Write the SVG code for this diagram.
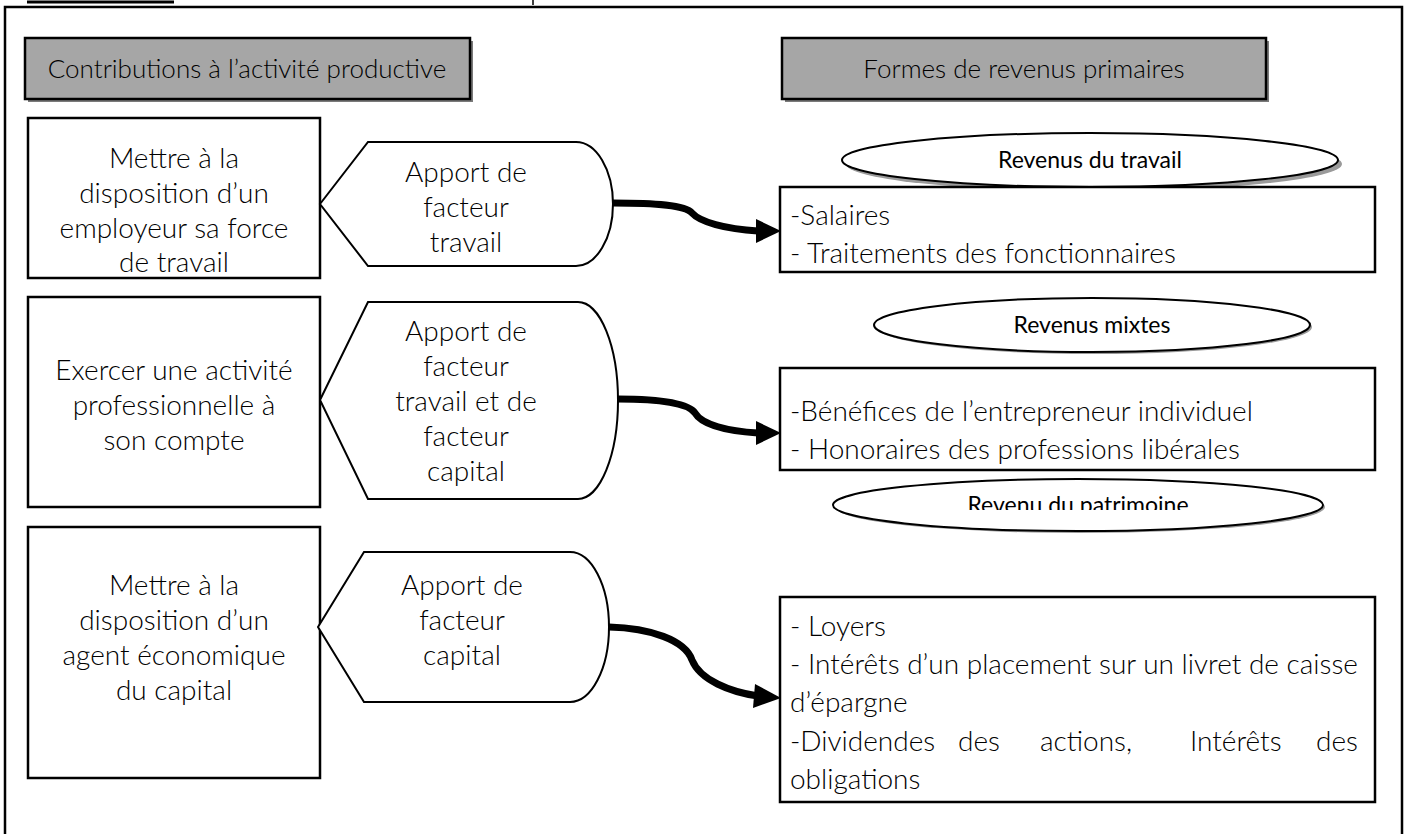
<svg xmlns="http://www.w3.org/2000/svg" width="1407" height="834" viewBox="0 0 1407 834">
<defs>
<style>
.frame{fill:none;stroke:#000;stroke-width:2.5}
.box{fill:#fff;stroke:#000;stroke-width:2.5}
.hdr{fill:#a6a6a6;stroke:#000;stroke-width:2.5}
.hsh{fill:#7a7a7a}
.esh{fill:#9a9a9a}
.disp{fill:#fff;stroke:#000;stroke-width:2}
.ell{fill:#fff;stroke:#000;stroke-width:2}
.t{font-family:Lato,"Open Sans","Liberation Sans",sans-serif;font-weight:300;font-size:28px;fill:#000}
.c{text-anchor:middle}
.h{font-size:26px}
.e{font-weight:400;font-size:23px}
.conn{fill:none;stroke:#000;stroke-width:7;stroke-linecap:butt}
.head{fill:#000}
</style>
<clipPath id="clipE3"><rect x="800" y="470" width="560" height="40"/></clipPath>
</defs>
<rect width="1407" height="834" fill="#fff"/>
<line x1="27" y1="2" x2="174" y2="2" stroke="#000" stroke-width="3"/>
<line x1="533" y1="0" x2="533" y2="5" stroke="#000" stroke-width="1.5"/>
<rect class="frame" x="5" y="7" width="1397" height="850"/>

<g id="header-left">
<rect class="hsh" x="28" y="41" width="445" height="61"/>
<rect class="hdr" x="25" y="38" width="445" height="61"/>
<text class="t c h" x="247" y="78">Contributions à l’activité productive</text>
</g>
<g id="header-right">
<rect class="hsh" x="785" y="41" width="484" height="61"/>
<rect class="hdr" x="782" y="38" width="484" height="61"/>
<text class="t c h" x="1024" y="78">Formes de revenus primaires</text>
</g>

<g id="contrib-travail">
<rect class="box" x="28" y="118" width="292" height="160"/>
<text class="t c" x="174"><tspan x="174" y="168">Mettre à la</tspan><tspan x="174" y="203">disposition d’un</tspan><tspan x="174" y="238">employeur sa force</tspan><tspan x="174" y="272">de travail</tspan></text>
</g>
<g id="apport-travail">
<path class="disp" d="M320,204 L368,142 L576,142 A37,62 0 0 1 576,266 L368,266 Z"/>
<text class="t c" x="466"><tspan x="466" y="182">Apport de</tspan><tspan x="466" y="217">facteur</tspan><tspan x="466" y="252">travail</tspan></text>
</g>

<g id="contrib-mixte">
<rect class="box" x="28" y="297" width="292" height="210"/>
<text class="t c" x="174"><tspan x="174" y="380">Exercer une activité</tspan><tspan x="174" y="415">professionnelle à</tspan><tspan x="174" y="450">son compte</tspan></text>
</g>
<g id="apport-mixte">
<path class="disp" d="M320,400 L368,302 L578,302 A40,98.5 0 0 1 578,499 L368,499 Z"/>
<text class="t c" x="466"><tspan x="466" y="341">Apport de</tspan><tspan x="466" y="376">facteur</tspan><tspan x="466" y="411">travail et de</tspan><tspan x="466" y="446">facteur</tspan><tspan x="466" y="481">capital</tspan></text>
</g>

<g id="contrib-capital">
<rect class="box" x="28" y="527" width="292" height="251"/>
<text class="t c" x="174"><tspan x="174" y="595">Mettre à la</tspan><tspan x="174" y="630">disposition d’un</tspan><tspan x="174" y="665">agent économique</tspan><tspan x="174" y="700">du capital</tspan></text>
</g>
<g id="apport-capital">
<path class="disp" d="M318,627 L364,552 L570,552 A39,75 0 0 1 570,702 L364,702 Z"/>
<text class="t c" x="462"><tspan x="462" y="595">Apport de</tspan><tspan x="462" y="630">facteur</tspan><tspan x="462" y="665">capital</tspan></text>
</g>

<g id="ellipse-travail">
<ellipse class="esh" cx="1094" cy="164" rx="248" ry="27"/>
<ellipse class="ell" cx="1090" cy="160" rx="248" ry="27"/>
<text class="t c e" x="1090" y="168">Revenus du travail</text>
</g>
<g id="revenus-travail">
<rect class="box" x="780" y="187" width="595" height="85"/>
<text class="t"><tspan x="790" y="225">-Salaires</tspan><tspan x="790" y="263">- Traitements des fonctionnaires</tspan></text>
</g>

<g id="ellipse-mixtes">
<ellipse class="esh" cx="1094" cy="327" rx="218" ry="27"/>
<ellipse class="ell" cx="1092" cy="325" rx="218" ry="27"/>
<text class="t c e" x="1092" y="333">Revenus mixtes</text>
</g>
<g id="revenus-mixtes">
<rect class="box" x="780" y="368" width="595" height="102"/>
<text class="t"><tspan x="790" y="421">-Bénéfices de l’entrepreneur individuel</tspan><tspan x="790" y="459">- Honoraires des professions libérales</tspan></text>
</g>

<g id="ellipse-patrimoine">
<ellipse class="esh" cx="1080" cy="507" rx="245" ry="26"/>
<ellipse class="ell" cx="1078" cy="505" rx="245" ry="26"/>
<text class="t c e" x="1078" y="513" clip-path="url(#clipE3)">Revenu du patrimoine</text>
</g>
<g id="revenus-patrimoine">
<rect class="box" x="780" y="597" width="595" height="205"/>
<text class="t"><tspan x="790" y="636">- Loyers</tspan><tspan x="790" y="674">- Intérêts d’un placement sur un livret de caisse</tspan><tspan x="790" y="712">d’épargne</tspan></text>
<text class="t" y="751"><tspan x="790">-Dividendes</tspan><tspan x="958">des</tspan><tspan x="1040">actions,</tspan><tspan x="1190">Intérêts</tspan><tspan x="1316">des</tspan></text>
<text class="t" x="790" y="789">obligations</text>
</g>

<g id="connectors">
<path class="conn" d="M613,203 C655,203 685,205 692,213 C700,222 725,229 758,231"/>
<polygon class="head" points="756,219 781,231 756,243"/>
<path class="conn" d="M618,399 C660,399 688,403 695,413 C702,425 728,431 758,433"/>
<polygon class="head" points="756,421 781,433 756,445"/>
<path class="conn" d="M609,627 C650,628 685,640 692,660 C700,680 730,692 758,696"/>
<polygon class="head" points="755,684 781,698 753,708"/>
</g>
</svg>
